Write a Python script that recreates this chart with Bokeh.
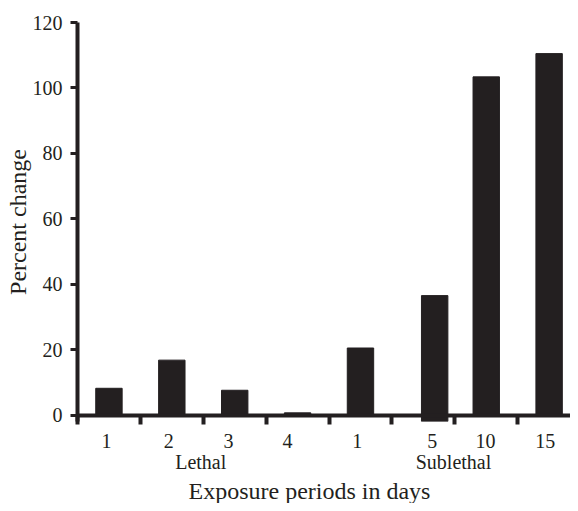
from bokeh.plotting import figure
from bokeh.models import Range1d, FixedTicker, LinearAxis, Span, ColumnDataSource, Title
from bokeh.embed import file_html
from bokeh.resources import INLINE

# ---- data ----
groups = ["Lethal", "Sublethal"]
lethal_days = ["1", "2", "3", "4"]
sublethal_days = ["1", "5", "10", "15"]
lethal_change = [8.3, 16.9, 7.7, 0.8]
sublethal_change = [20.6, 36.6, 103.4, 110.5]
bar_base = [0, 0, 0, 0, 0, -3, 0, 0]
y_ticks = [0, 20, 40, 60, 80, 100, 120]

# ---- layout (slot positions along the x axis) ----
bar_slots = [0.5, 1.5, 2.5, 3.5, 4.5, 5.68, 6.5, 7.5]
label_slots = [0.46, 1.45, 2.40, 3.34, 4.45, 5.64, 6.49, 7.44]
group_slots = [1.96, 5.98]
divider_slots = [0, 1, 2, 3, 4, 5, 6, 7]

INK = "#231f20"
FONT = "Liberation Serif"

source = ColumnDataSource(dict(
    x=bar_slots,
    top=lethal_change + sublethal_change,
    bottom=bar_base,
))

p = figure(width=570, height=503, output_backend="svg", toolbar_location=None,
           x_range=Range1d(0, 7.84), y_range=Range1d(-1.84, 120),
           min_border_top=22, min_border_right=0, min_border_left=77, min_border_bottom=0)
p.title.visible = False
p.outline_line_color = None
p.xgrid.visible = False
p.ygrid.visible = False
p.background_fill_color = "white"
p.border_fill_color = "white"

p.vbar(x="x", top="top", bottom="bottom", width=0.42, source=source,
       fill_color=INK, line_color=INK, line_width=1)

# horizontal baseline at zero
p.add_layout(Span(location=0, dimension="width", line_color=INK, line_width=4))

# y axis
ya = p.yaxis[0]
ya.ticker = FixedTicker(ticks=y_ticks, minor_ticks=[])
ya.axis_line_color = INK
ya.axis_line_width = 4
ya.major_tick_line_color = INK
ya.major_tick_line_width = 3
ya.major_tick_in = 0
ya.major_tick_out = 7
ya.minor_tick_line_color = None
ya.major_label_standoff = 8
ya.major_label_text_font = FONT
ya.major_label_text_font_size = "20px"
ya.major_label_text_color = INK
ya.axis_label = "Percent change"
ya.axis_label_text_font = FONT
ya.axis_label_text_font_size = "24px"
ya.axis_label_text_font_style = "normal"
ya.axis_label_text_color = INK
ya.axis_label_standoff = -1

# x axis: day labels + divider ticks
xa = p.xaxis[0]
day_labels = lethal_days + sublethal_days
xa.ticker = FixedTicker(ticks=label_slots, minor_ticks=divider_slots)
xa.major_label_overrides = {s: t for s, t in zip(label_slots, day_labels)}
xa.axis_line_color = None
xa.major_tick_line_color = None
xa.major_tick_in = 0
xa.major_tick_out = 0
xa.minor_tick_line_color = INK
xa.minor_tick_line_width = 4
xa.minor_tick_in = 6
xa.minor_tick_out = 3
xa.major_label_standoff = 9
xa.major_label_text_font = FONT
xa.major_label_text_font_size = "20px"
xa.major_label_text_color = INK

# group axis
ga = LinearAxis(ticker=FixedTicker(ticks=group_slots, minor_ticks=[]))
ga.major_label_overrides = {s: g for s, g in zip(group_slots, groups)}
ga.axis_line_color = None
ga.major_tick_line_color = None
ga.minor_tick_line_color = None
ga.major_tick_in = 0
ga.major_tick_out = 0
ga.minor_tick_in = 0
ga.minor_tick_out = 0
ga.major_label_standoff = 0
ga.major_label_text_font = FONT
ga.major_label_text_font_size = "20px"
ga.major_label_text_color = INK
p.add_layout(ga, "below")

# x-axis title
p.add_layout(Title(text="Exposure periods in days", align="left", offset=111,
                   text_font=FONT, text_font_size="24px", text_font_style="normal",
                   text_color=INK, standoff=0), "below")

open("out.html", "w").write(file_html(p, INLINE))
